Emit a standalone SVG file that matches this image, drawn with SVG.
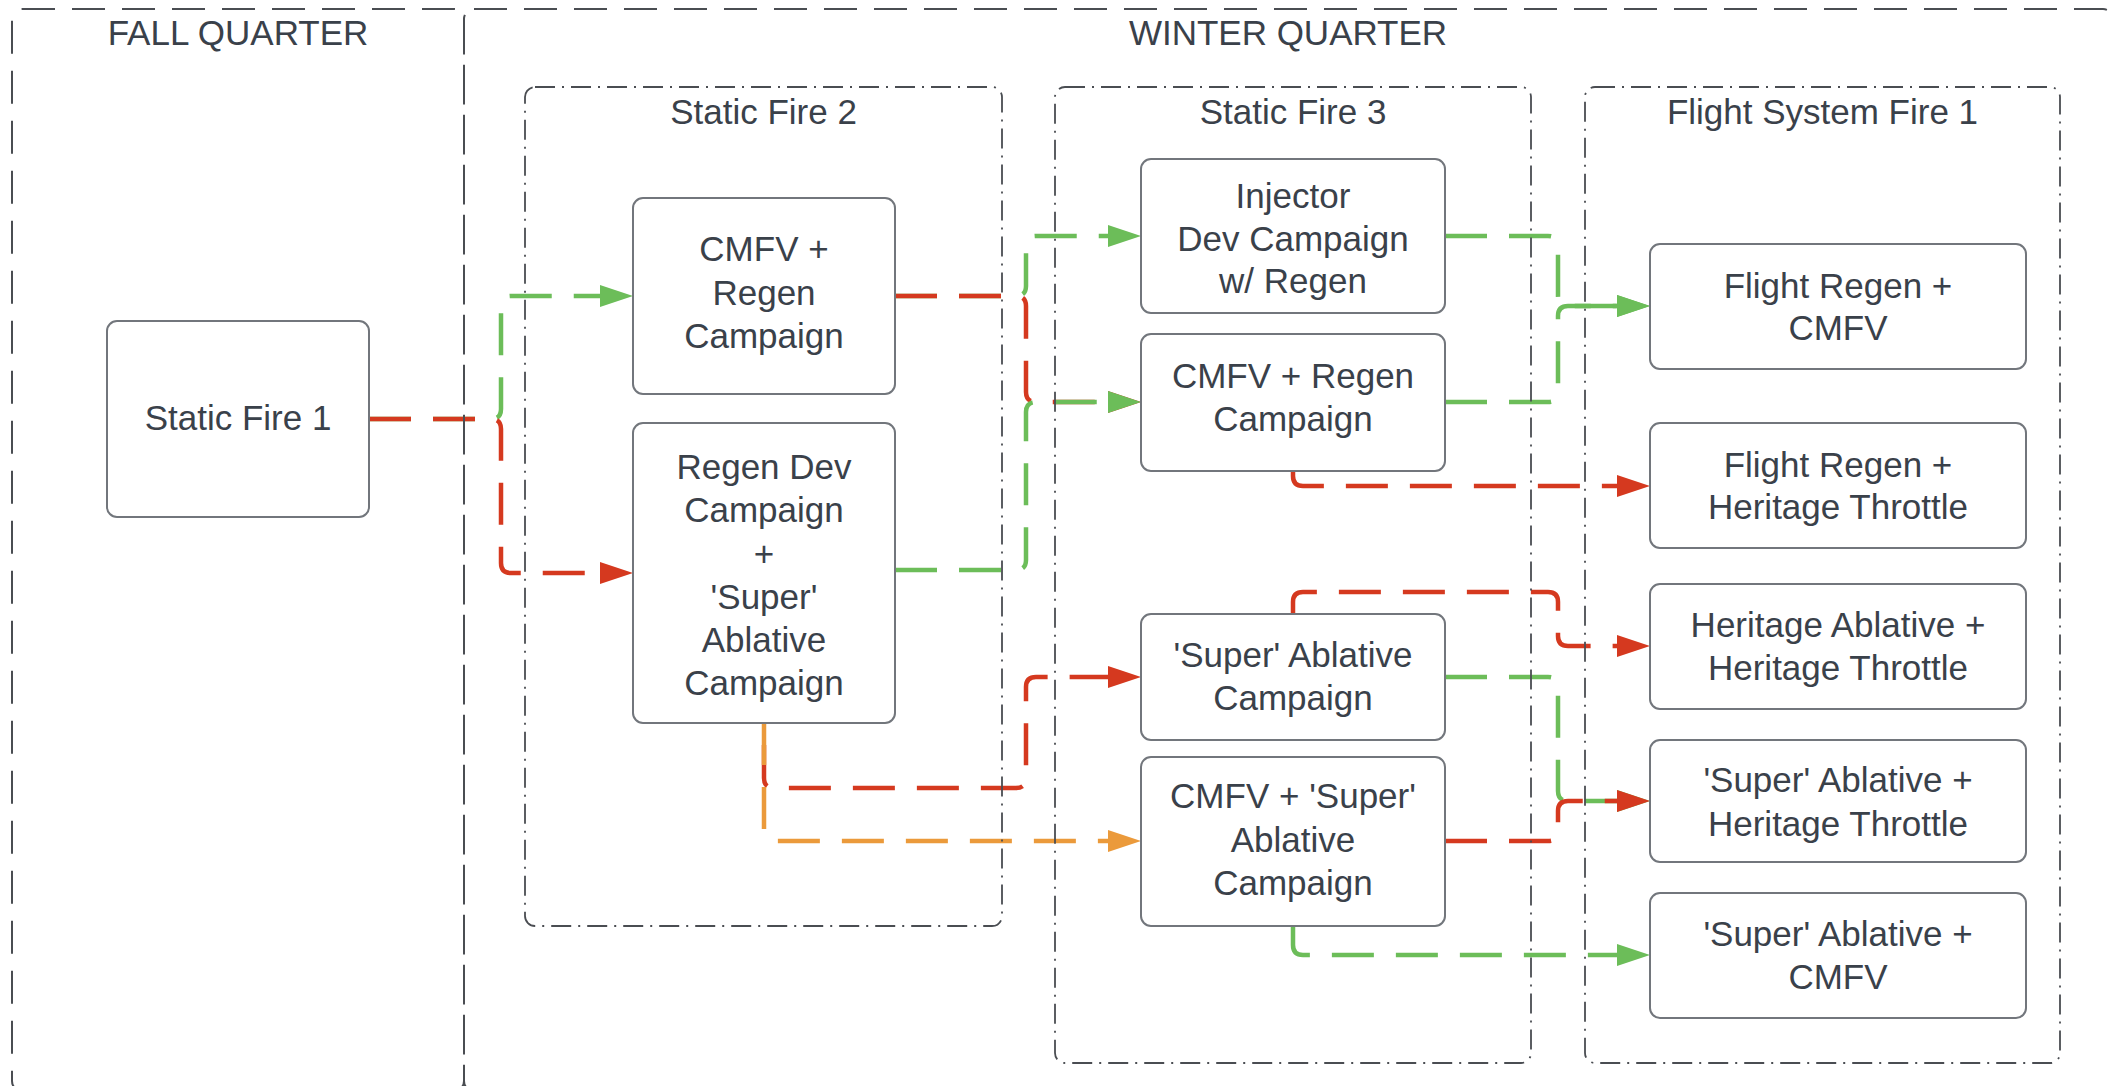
<svg xmlns="http://www.w3.org/2000/svg" width="2108" height="1086" viewBox="0 0 2108 1086">
  <style>
    text { font-family: "Liberation Sans", Arial, sans-serif; font-size: 35px; fill: #3a414a; text-anchor: middle; }
    .quarter { fill: none; stroke: #4a4d52; stroke-width: 2; stroke-dasharray: 33 17; }
    .phase { fill: none; stroke: #4a4d52; stroke-width: 1.8; stroke-dasharray: 20 7 2 7; }
    .node rect { fill: #ffffff; stroke: #72767c; stroke-width: 2; }
    .link { fill: none; stroke-width: 4.5; stroke-dasharray: 42 22; }
    .red { stroke: #d5391f; }
    .green { stroke: #6cbd59; }
    .orange { stroke: #eb9a3b; }
  </style>
  <defs>
    <marker id="arrow-red" markerUnits="userSpaceOnUse" markerWidth="34" markerHeight="24" refX="1" refY="12" orient="auto">
      <path d="M0,1 L33,12 L0,23 Z" fill="#d5391f"/>
    </marker>
    <marker id="arrow-green" markerUnits="userSpaceOnUse" markerWidth="34" markerHeight="24" refX="1" refY="12" orient="auto">
      <path d="M0,1 L33,12 L0,23 Z" fill="#6cbd59"/>
    </marker>
    <marker id="arrow-orange" markerUnits="userSpaceOnUse" markerWidth="34" markerHeight="24" refX="1" refY="12" orient="auto">
      <path d="M0,1 L33,12 L0,23 Z" fill="#eb9a3b"/>
    </marker>
  </defs>

  <rect x="0" y="0" width="2108" height="1086" fill="#ffffff"/>

  <!-- connectors -->
  <g id="connectors">
    <path class="link green" d="M369,419 H491 Q501,419 501,409 V306 Q501,296 511,296 H601" marker-end="url(#arrow-green)"/>
    <path class="link red" d="M369,419 H491 Q501,419 501,429 V563 Q501,573 511,573 H601" marker-end="url(#arrow-red)"/>

    <path class="link green" d="M895,296 H1016 Q1026,296 1026,286 V246 Q1026,236 1036,236 H1109" marker-end="url(#arrow-green)"/>
    <path class="link red" d="M895,296 H1016 Q1026,296 1026,306 V392 Q1026,402 1036,402 H1109" marker-end="url(#arrow-red)"/>
    <path class="link green" d="M895,570 H1016 Q1026,570 1026,560 V412 Q1026,402 1036,402 H1109" marker-end="url(#arrow-green)"/>

    <path class="link red" style="stroke-dashoffset:42" d="M764,723 V778 Q764,788 774,788 H1016 Q1026,788 1026,778 V687 Q1026,677 1036,677 H1109" marker-end="url(#arrow-red)"/>
    <path class="link orange" d="M764,723 V831 Q764,841 774,841 H1109" marker-end="url(#arrow-orange)"/>

    <path class="link green" d="M1445,236 H1548 Q1558,236 1558,246 V296 Q1558,306 1568,306 H1618" marker-end="url(#arrow-green)"/>
    <path class="link green" d="M1445,402 H1548 Q1558,402 1558,392 V316 Q1558,306 1568,306 H1618" marker-end="url(#arrow-green)"/>
    <path class="link red" d="M1293,471 V476 Q1293,486 1303,486 H1618" marker-end="url(#arrow-red)"/>
    <path class="link red" d="M1293,614 V602 Q1293,592 1303,592 H1548 Q1558,592 1558,602 V636 Q1558,646 1568,646 H1618" marker-end="url(#arrow-red)"/>
    <path class="link green" d="M1445,677 H1548 Q1558,677 1558,687 V791 Q1558,801 1568,801 H1618" marker-end="url(#arrow-green)"/>
    <path class="link red" d="M1445,841 H1548 Q1558,841 1558,831 V811 Q1558,801 1568,801 H1618" marker-end="url(#arrow-red)"/>
    <path class="link green" d="M1293,926 V945 Q1293,955 1303,955 H1618" marker-end="url(#arrow-green)"/>
  </g>

  <!-- quarters -->
  <g id="fall-quarter">
    <rect class="quarter" x="12" y="9" width="452" height="1082" rx="10"/>
    <text x="238" y="45">FALL QUARTER</text>
  </g>
  <g id="winter-quarter">
    <rect class="quarter" x="464" y="9" width="1649" height="1082" rx="10"/>
    <text x="1288" y="45">WINTER QUARTER</text>
  </g>

  <!-- test phases -->
  <g id="static-fire-2">
    <rect class="phase" x="525" y="87" width="477" height="839" rx="10"/>
    <text x="763.5" y="124">Static Fire 2</text>
  </g>
  <g id="static-fire-3">
    <rect class="phase" x="1055" y="87" width="476" height="976" rx="10"/>
    <text x="1293" y="124">Static Fire 3</text>
  </g>
  <g id="flight-system-fire-1">
    <rect class="phase" x="1585" y="87" width="475" height="976" rx="10"/>
    <text x="1822.5" y="124">Flight System Fire 1</text>
  </g>

  <!-- campaigns -->
  <g id="static-fire-1" class="node">
    <rect x="107" y="321" width="262" height="196" rx="10"/>
    <text x="238" y="430">Static Fire 1</text>
  </g>
  <g id="sf2-cmfv-regen" class="node">
    <rect x="633" y="198" width="262" height="196" rx="10"/>
    <text x="764" y="261">CMFV +</text>
    <text x="764" y="305">Regen</text>
    <text x="764" y="348">Campaign</text>
  </g>
  <g id="sf2-regen-super-ablative" class="node">
    <rect x="633" y="423" width="262" height="300" rx="10"/>
    <text x="764" y="479">Regen Dev</text>
    <text x="764" y="522">Campaign</text>
    <text x="764" y="566">+</text>
    <text x="764" y="609">'Super'</text>
    <text x="764" y="652">Ablative</text>
    <text x="764" y="695">Campaign</text>
  </g>
  <g id="sf3-injector-regen" class="node">
    <rect x="1141" y="159" width="304" height="154" rx="10"/>
    <text x="1293" y="208">Injector</text>
    <text x="1293" y="251">Dev Campaign</text>
    <text x="1293" y="293">w/ Regen</text>
  </g>
  <g id="sf3-cmfv-regen" class="node">
    <rect x="1141" y="334" width="304" height="137" rx="10"/>
    <text x="1293" y="388">CMFV + Regen</text>
    <text x="1293" y="431">Campaign</text>
  </g>
  <g id="sf3-super-ablative" class="node">
    <rect x="1141" y="614" width="304" height="126" rx="10"/>
    <text x="1293" y="667">'Super' Ablative</text>
    <text x="1293" y="710">Campaign</text>
  </g>
  <g id="sf3-cmfv-super-ablative" class="node">
    <rect x="1141" y="757" width="304" height="169" rx="10"/>
    <text x="1293" y="808">CMFV + 'Super'</text>
    <text x="1293" y="852">Ablative</text>
    <text x="1293" y="895">Campaign</text>
  </g>
  <g id="fsf-regen-cmfv" class="node">
    <rect x="1650" y="244" width="376" height="125" rx="10"/>
    <text x="1838" y="298">Flight Regen +</text>
    <text x="1838" y="340">CMFV</text>
  </g>
  <g id="fsf-regen-heritage-throttle" class="node">
    <rect x="1650" y="423" width="376" height="125" rx="10"/>
    <text x="1838" y="477">Flight Regen +</text>
    <text x="1838" y="519">Heritage Throttle</text>
  </g>
  <g id="fsf-heritage-ablative-throttle" class="node">
    <rect x="1650" y="584" width="376" height="125" rx="10"/>
    <text x="1838" y="637">Heritage Ablative +</text>
    <text x="1838" y="680">Heritage Throttle</text>
  </g>
  <g id="fsf-super-ablative-throttle" class="node">
    <rect x="1650" y="740" width="376" height="122" rx="10"/>
    <text x="1838" y="792">'Super' Ablative +</text>
    <text x="1838" y="836">Heritage Throttle</text>
  </g>
  <g id="fsf-super-ablative-cmfv" class="node">
    <rect x="1650" y="893" width="376" height="125" rx="10"/>
    <text x="1838" y="946">'Super' Ablative +</text>
    <text x="1838" y="989">CMFV</text>
  </g>
</svg>
